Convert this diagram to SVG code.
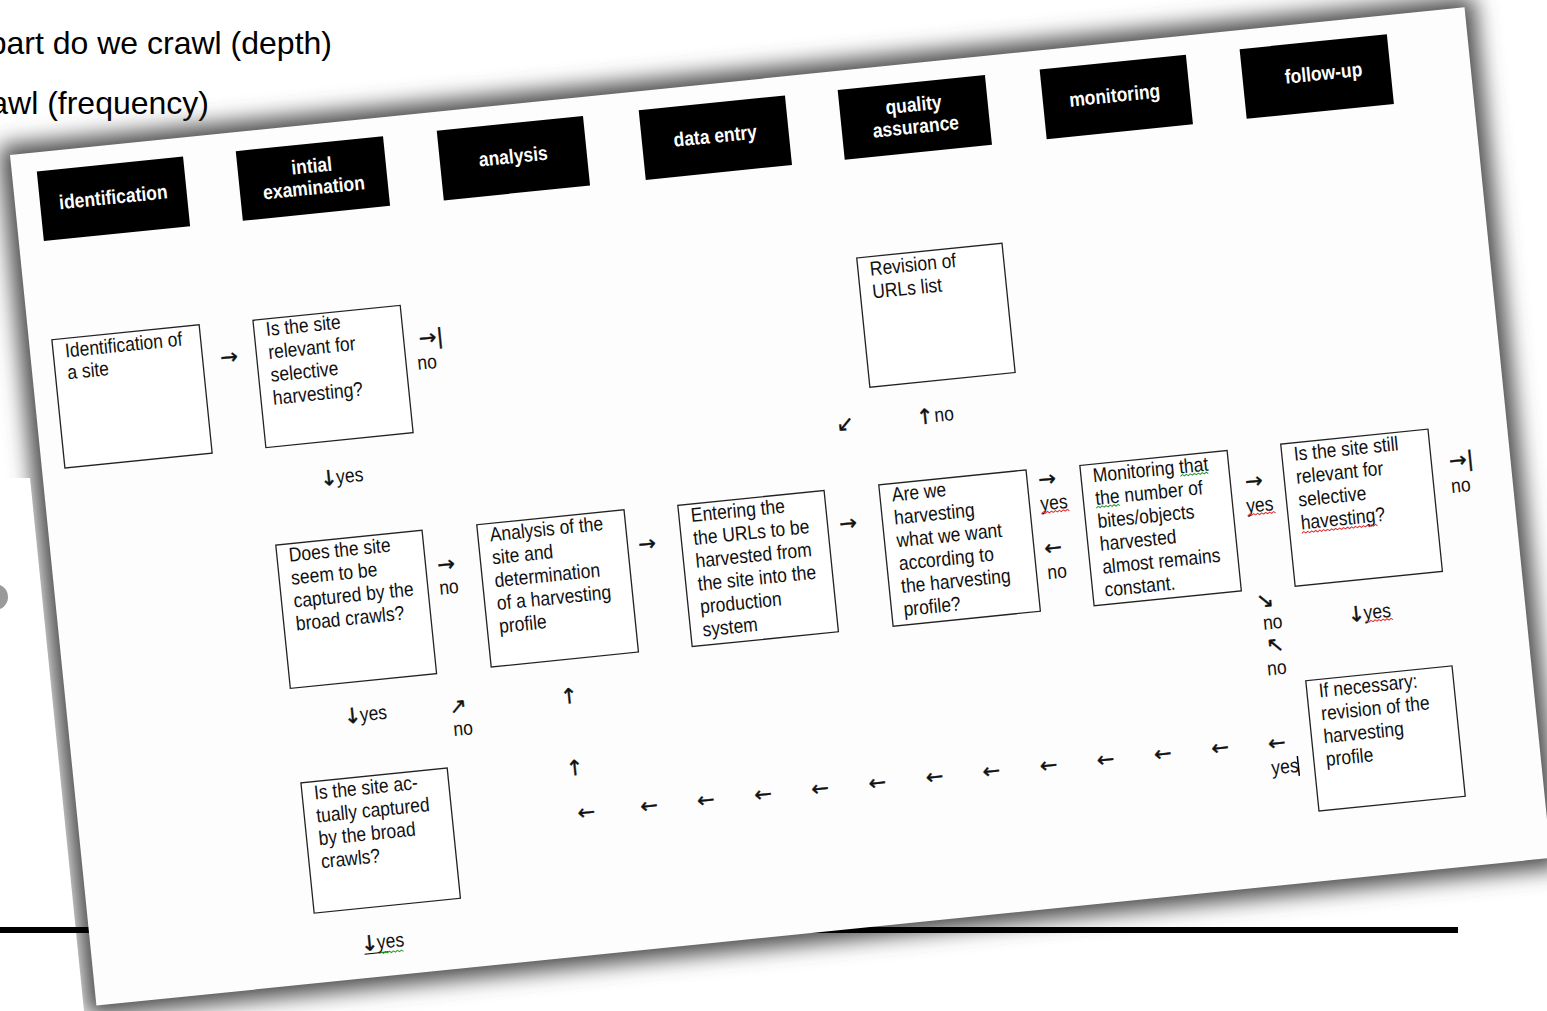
<svg xmlns="http://www.w3.org/2000/svg" width="1547" height="1011" viewBox="0 0 1547 1011">
<defs>
<filter id="blur" x="-10%" y="-10%" width="120%" height="120%"><feGaussianBlur stdDeviation="11"/></filter>
<style>
.bg{font-family:"Liberation Sans",Arial,sans-serif;font-size:32px;fill:#000}
.t{font-family:"Liberation Sans",Arial,sans-serif;font-size:20px;fill:#111}
.m{text-anchor:middle}
.h{font-family:"Liberation Sans",Arial,sans-serif;font-size:20px;font-weight:bold;fill:#fff;text-anchor:middle}
.a{font-family:"DejaVu Sans","Liberation Sans",sans-serif;font-size:21px;fill:#111;stroke:#111;stroke-width:0.4;text-anchor:middle}
.box{fill:#fff;stroke:#222;stroke-width:1.3}
.hb{fill:#000}
.sqr{fill:none;stroke:#e03030;stroke-width:1}
.sqg{fill:none;stroke:#2a9a2a;stroke-width:1}
</style>
</defs>
<rect width="1547" height="1011" fill="#fff"/>
<text class="bg" x="332" y="54" text-anchor="end">part do we crawl (depth)</text>
<text class="bg" x="209" y="114" text-anchor="end">awl (frequency)</text>
<g transform="translate(10,155) rotate(-5.8)">
<rect x="-10" y="-10" width="1482" height="875" fill="#4a4a4a" filter="url(#blur)"/>
</g>
<polygon points="0,478 30,478 84,1011 0,1011" fill="#fff"/>
<circle cx="-5" cy="597" r="13" fill="#9a9a9a"/>
<rect x="0" y="927" width="1458" height="6" fill="#000"/>
<g transform="translate(10,155) rotate(-5.8)">
<rect width="1462" height="855" fill="#fdfdfd"/>

<g id="h1"><rect class="hb" x="25" y="19" width="147" height="70"/><text class="h" transform="translate(98.5,59) scale(0.875,1)">identification</text></g>
<g id="h2"><rect class="hb" x="225" y="19" width="148" height="70"/><text class="h" transform="translate(299,48) scale(0.875,1)"><tspan x="0" y="0">intial</tspan><tspan x="0" y="22">examination</tspan></text></g>
<g id="h3"><rect class="hb" x="427" y="19" width="147" height="70"/><text class="h" transform="translate(500.5,59) scale(0.875,1)">analysis</text></g>
<g id="h4"><rect class="hb" x="630" y="19" width="147" height="70"/><text class="h" transform="translate(703.5,59) scale(0.875,1)">data entry</text></g>
<g id="h5"><rect class="hb" x="830" y="19" width="148" height="70"/><text class="h" transform="translate(904,48) scale(0.875,1)"><tspan x="0" y="0">quality</tspan><tspan x="0" y="22">assurance</tspan></text></g>
<g id="h6"><rect class="hb" x="1033" y="19" width="147" height="70"/><text class="h" transform="translate(1105,59) scale(0.875,1)">monitoring</text></g>
<g id="h7"><rect class="hb" x="1234" y="19" width="148" height="70"/><text class="h" transform="translate(1315,58) scale(0.875,1)">follow-up</text></g>

<g id="n1"><rect class="box" x="23" y="188" width="148" height="129"/><text class="t" transform="translate(35,207) scale(0.875,1)"><tspan x="0" y="0">Identification of</tspan><tspan x="0" y="22">a site</tspan></text></g>
<g id="n2"><rect class="box" x="225" y="189" width="148" height="128"/><text class="t" transform="translate(237,206) scale(0.875,1)"><tspan x="0" y="0">Is the site</tspan><tspan x="0" y="23">relevant for</tspan><tspan x="0" y="46">selective</tspan><tspan x="0" y="69">harvesting?</tspan></text></g>
<g id="n3"><rect class="box" x="832" y="188" width="146" height="130"/><text class="t" transform="translate(844,207) scale(0.875,1)"><tspan x="0" y="0">Revision of</tspan><tspan x="0" y="23">URLs list</tspan></text></g>
<g id="n4"><rect class="box" x="225" y="415" width="147" height="144"/><text class="t" transform="translate(237,433) scale(0.875,1)"><tspan x="0" y="0">Does the site</tspan><tspan x="0" y="23">seem to be</tspan><tspan x="0" y="46">captured by the</tspan><tspan x="0" y="69">broad crawls?</tspan></text></g>
<g id="n5"><rect class="box" x="427" y="415" width="148" height="143"/><text class="t" transform="translate(439,433) scale(0.875,1)"><tspan x="0" y="0">Analysis of the</tspan><tspan x="0" y="23">site and</tspan><tspan x="0" y="46">determination</tspan><tspan x="0" y="69">of a harvesting</tspan><tspan x="0" y="92">profile</tspan></text></g>
<g id="n6"><rect class="box" x="629" y="416" width="147" height="142"/><text class="t" transform="translate(641,434) scale(0.875,1)"><tspan x="0" y="0">Entering the</tspan><tspan x="0" y="23">the URLs to be</tspan><tspan x="0" y="46">harvested from</tspan><tspan x="0" y="69">the site into the</tspan><tspan x="0" y="92">production</tspan><tspan x="0" y="115">system</tspan></text></g>
<g id="n7"><rect class="box" x="831" y="416" width="148" height="142"/><text class="t" transform="translate(843,434) scale(0.875,1)"><tspan x="0" y="0">Are we</tspan><tspan x="0" y="23">harvesting</tspan><tspan x="0" y="46">what we want</tspan><tspan x="0" y="69">according to</tspan><tspan x="0" y="92">the harvesting</tspan><tspan x="0" y="115">profile?</tspan></text></g>
<g id="n8"><rect class="box" x="1033" y="417" width="148" height="141"/><text class="t" transform="translate(1045,435) scale(0.875,1)"><tspan x="0" y="0">Monitoring that</tspan><tspan x="0" y="23">the number of</tspan><tspan x="0" y="46">bites/objects</tspan><tspan x="0" y="69">harvested</tspan><tspan x="0" y="92">almost remains</tspan><tspan x="0" y="115">constant.</tspan></text>
<path class="sqg" d="M1132,438 l2,-1.5 2,1.5 2,-1.5 2,1.5 2,-1.5 2,1.5 2,-1.5 2,1.5 2,-1.5 2,1.5 2,-1.5 2,1.5 2,-1.5 2,1.5"/>
<path class="sqg" d="M1045,461 l2,-1.5 2,1.5 2,-1.5 2,1.5 2,-1.5 2,1.5 2,-1.5 2,1.5 2,-1.5 2,1.5 2,-1.5 2,1.5"/></g>
<g id="n9"><rect class="box" x="1235" y="416" width="148" height="143"/><text class="t" transform="translate(1247,434) scale(0.875,1)"><tspan x="0" y="0">Is the site still</tspan><tspan x="0" y="23">relevant for</tspan><tspan x="0" y="46">selective</tspan><tspan x="0" y="69">havesting?</tspan></text>
<path class="sqr" d="M1247,507 l2,-1.5 2,1.5 2,-1.5 2,1.5 2,-1.5 2,1.5 2,-1.5 2,1.5 2,-1.5 2,1.5 2,-1.5 2,1.5 2,-1.5 2,1.5 2,-1.5 2,1.5 2,-1.5 2,1.5 2,-1.5 2,1.5 2,-1.5 2,1.5 2,-1.5 2,1.5 2,-1.5 2,1.5 2,-1.5 2,1.5 2,-1.5 2,1.5 2,-1.5 2,1.5 2,-1.5 2,1.5 2,-1.5 2,1.5 2,-1.5 2,1.5"/></g>
<g id="n10"><rect class="box" x="226" y="654" width="147" height="131"/><text class="t" transform="translate(238,672) scale(0.875,1)"><tspan x="0" y="0">Is the site ac-</tspan><tspan x="0" y="23">tually captured</tspan><tspan x="0" y="46">by the broad</tspan><tspan x="0" y="69">crawls?</tspan></text></g>
<g id="n11"><rect class="box" x="1236" y="654" width="147" height="131"/><text class="t" transform="translate(1248,672) scale(0.875,1)"><tspan x="0" y="0">If necessary:</tspan><tspan x="0" y="23">revision of the</tspan><tspan x="0" y="46">harvesting</tspan><tspan x="0" y="69">profile</tspan></text></g>

<g id="connectors">
<text class="a" x="197.5" y="230">→</text>
<text class="a" x="400.5" y="231">→|</text>
<text class="t m" transform="translate(394,255) scale(0.875,1)">no</text>
<text class="a" x="284.5" y="361">↓</text>
<text class="t m" transform="translate(305.5,360) scale(0.875,1)">yes</text>
<text class="a" x="803.5" y="359">↙</text>
<text class="a" x="884" y="360">↑</text>
<text class="t m" transform="translate(903,359) scale(0.875,1)">no</text>
<text class="a" x="392.5" y="458">→</text>
<text class="t m" transform="translate(393,481) scale(0.875,1)">no</text>
<text class="a" x="594.5" y="458">→</text>
<text class="a" x="796.5" y="458">→</text>
<text class="a" x="999" y="434">→</text>
<text class="t m" transform="translate(1003.5,458) scale(0.875,1)">yes</text>
<path class="sqr" d="M990,461 l2,-1.5 2,1.5 2,-1.5 2,1.5 2,-1.5 2,1.5 2,-1.5 2,1.5 2,-1.5 2,1.5 2,-1.5 2,1.5 2,-1.5 2,1.5"/>
<text class="a" x="998" y="503">←</text>
<text class="t m" transform="translate(999.5,527) scale(0.875,1)">no</text>
<text class="a" x="1204.6" y="457">→</text>
<text class="t m" transform="translate(1208,481) scale(0.875,1)">yes</text>
<path class="sqr" d="M1195,484 l2,-1.5 2,1.5 2,-1.5 2,1.5 2,-1.5 2,1.5 2,-1.5 2,1.5 2,-1.5 2,1.5 2,-1.5 2,1.5 2,-1.5 2,1.5"/>
<text class="a" x="1413" y="457">→|</text>
<text class="t m" transform="translate(1410,482) scale(0.875,1)">no</text>
<text class="a" x="1203.6" y="577">↘</text>
<text class="t m" transform="translate(1209,599) scale(0.875,1)">no</text>
<text class="a" x="1209" y="622">↖</text>
<text class="t m" transform="translate(1208.5,645) scale(0.875,1)">no</text>
<text class="a" x="1293" y="600">↓</text>
<text class="t m" transform="translate(1314,599) scale(0.875,1)">yes</text>
<path class="sqr" d="M1301,602 l2,-1.5 2,1.5 2,-1.5 2,1.5 2,-1.5 2,1.5 2,-1.5 2,1.5 2,-1.5 2,1.5 2,-1.5 2,1.5 2,-1.5 2,1.5"/>
<text class="a" x="1201" y="720">←</text>
<text class="t m" transform="translate(1206.6,744) scale(0.875,1)">yes</text>
<line x1="1220" y1="728" x2="1220" y2="748" stroke="#000" stroke-width="1.5"/>
<text class="a" x="1144" y="719">←</text>
<text class="a" x="1086.5" y="719">←</text>
<text class="a" x="1029" y="719">←</text>
<text class="a" x="971.5" y="719">←</text>
<text class="a" x="914" y="719">←</text>
<text class="a" x="857" y="719">←</text>
<text class="a" x="799.5" y="719">←</text>
<text class="a" x="742" y="719">←</text>
<text class="a" x="684.5" y="719">←</text>
<text class="a" x="627" y="719">←</text>
<text class="a" x="570" y="719">←</text>
<text class="a" x="507" y="719">←</text>
<text class="a" x="284" y="600">↓</text>
<text class="t m" transform="translate(305,599) scale(0.875,1)">yes</text>
<text class="a" x="390" y="600.5">↗</text>
<text class="t m" transform="translate(392.7,623) scale(0.875,1)">no</text>
<text class="a" x="501.4" y="602">↑</text>
<text class="a" x="500" y="674">↑</text>
<text class="a" x="278" y="828">↓</text>
<text class="t m" transform="translate(299,827) scale(0.875,1)">yes</text>
<line x1="272" y1="831" x2="296" y2="831" stroke="#000" stroke-width="1"/>
<path class="sqg" d="M287,832 l2,-1.5 2,1.5 2,-1.5 2,1.5 2,-1.5 2,1.5 2,-1.5 2,1.5 2,-1.5 2,1.5 2,-1.5 2,1.5"/>
</g>
</g>
</svg>
